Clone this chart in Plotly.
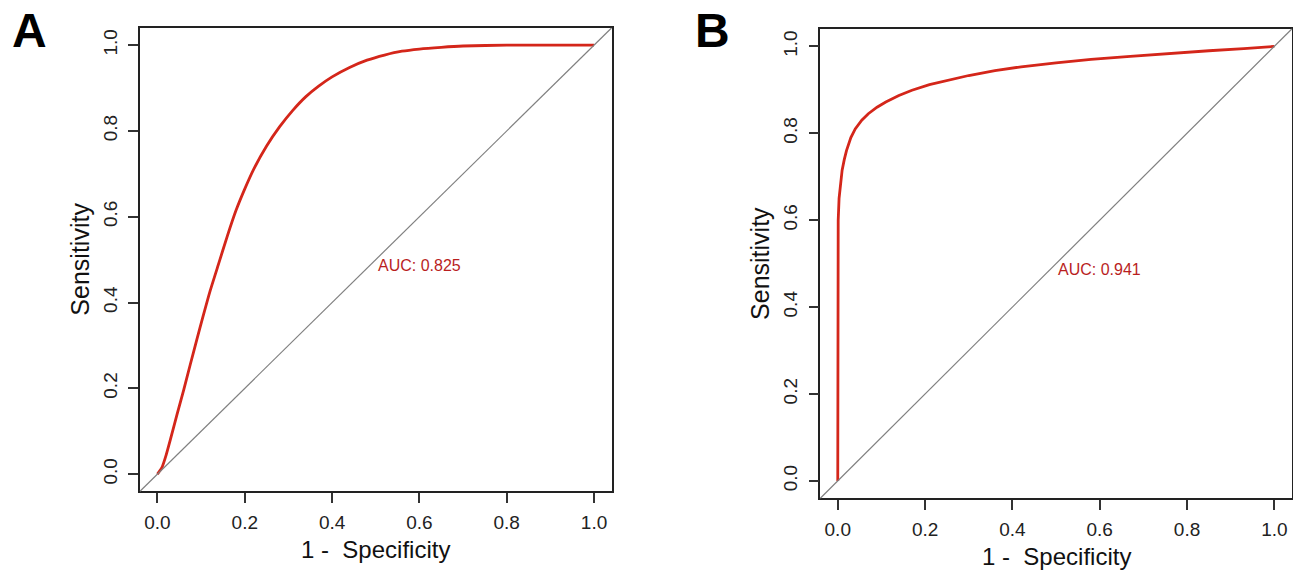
import plotly.graph_objects as go

# ---------------- data ----------------
# Panel A: smoothed ROC curve (1 - specificity, sensitivity)
fpr_a = [0, 0.01, 0.02, 0.03, 0.045, 0.06, 0.075, 0.09, 0.105, 0.12, 0.14, 0.16,
         0.18, 0.2, 0.22, 0.25, 0.28, 0.31, 0.34, 0.37, 0.4, 0.44, 0.48, 0.52,
         0.56, 0.6, 0.65, 0.7, 0.8, 0.9, 1.0]
tpr_a = [0, 0.015, 0.045, 0.082, 0.14, 0.196, 0.255, 0.313, 0.37, 0.425, 0.49, 0.555,
         0.615, 0.665, 0.71, 0.765, 0.81, 0.848, 0.88, 0.905, 0.926, 0.948, 0.965, 0.977,
         0.986, 0.991, 0.995, 0.998, 1.0, 1.0, 1.0]
auc_a = "AUC: 0.825"

# Panel B
fpr_b = [0, 0.0, 0.001, 0.003, 0.006, 0.01, 0.015, 0.02, 0.03, 0.04, 0.055, 0.07,
         0.09, 0.11, 0.14, 0.17, 0.21, 0.25, 0.3, 0.36, 0.42, 0.5, 0.58, 0.67,
         0.76, 0.85, 0.93, 1.0]
tpr_b = [0, 0.5, 0.6, 0.65, 0.685, 0.715, 0.74, 0.76, 0.79, 0.81, 0.83, 0.845,
         0.86, 0.872, 0.887, 0.899, 0.912, 0.922, 0.933, 0.944, 0.953, 0.962, 0.97, 0.977,
         0.984, 0.99, 0.995, 1.0]
auc_b = "AUC: 0.941"

tick_vals = [0, 0.2, 0.4, 0.6, 0.8, 1.0]
panel_labels = ["A", "B"]
x_title = "1 -  Specificity"
y_title = "Sensitivity"

# ---------------- style ----------------
FONT = "Liberation Sans, Arial, sans-serif"
CURVE = "rgb(212,38,26)"
AUC_COL = "rgb(185,30,30)"
W, H = 1293, 570

fig = go.Figure()
fig.add_trace(go.Scatter(x=fpr_a, y=tpr_a, mode="lines", xaxis="x", yaxis="y",
                         line=dict(color=CURVE, width=2.8, shape="spline", smoothing=0.6),
                         showlegend=False, hoverinfo="x+y"))
fig.add_trace(go.Scatter(x=fpr_b, y=tpr_b, mode="lines", xaxis="x2", yaxis="y2",
                         line=dict(color=CURVE, width=2.8),
                         showlegend=False, hoverinfo="x+y"))

def ax(domain, anchor, rotate=False):
    d = dict(domain=domain, anchor=anchor, range=[-0.04, 1.04], tickvals=tick_vals,
             tickformat=".1f", ticks="outside", ticklen=10, tickwidth=1.5,
             tickcolor="#333", showline=True, mirror=True, linecolor="#222",
             linewidth=1.5, showgrid=False, zeroline=False,
             tickfont=dict(family=FONT, size=19, color="#222"))
    if rotate:
        d["tickangle"] = -90
        d["ticklabelstandoff"] = 4
    else:
        d["ticklabelstandoff"] = 3
    return d

# pixel boxes -> paper fractions
boxA = (140, 611.5, 28, 491.3)
boxB = (820.3, 1291.8, 29, 498.3)
def xd(b): return [b[0] / W, b[1] / W]
def yd(b): return [1 - b[3] / H, 1 - b[2] / H]

fig.update_layout(
    width=W, height=H, margin=dict(l=0, r=0, t=0, b=0),
    paper_bgcolor="white", plot_bgcolor="white",
    xaxis=ax(xd(boxA), "y"), yaxis=ax(yd(boxA), "x", True),
    xaxis2=ax(xd(boxB), "y2"), yaxis2=ax(yd(boxB), "x2", True),
)

# diagonal reference lines corner to corner
for xr, yr in (("x domain", "y domain"), ("x2 domain", "y2 domain")):
    fig.add_shape(type="line", xref=xr, yref=yr, x0=0, y0=0, x1=1, y1=1,
                  line=dict(color="rgb(128,128,128)", width=1.2))

anns = []
for xs, ys, auc, box, xt_y, yt_shift in (("x", "y", auc_a, boxA, 549, -60),
                                         ("x2", "y2", auc_b, boxB, 556, -61)):
    anns.append(dict(x=0.5, y=0.5, xref=xs, yref=ys, text=auc, showarrow=False,
                     xanchor="left", yanchor="top", yshift=5,
                     font=dict(family=FONT, size=16, color=AUC_COL)))
    anns.append(dict(x=0.5, y=0, xref=xs + " domain", yref=ys + " domain", text=x_title,
                     showarrow=False, xanchor="center", yanchor="middle",
                     yshift=-(xt_y - box[3]),
                     font=dict(family=FONT, size=24, color="#111")))
    anns.append(dict(x=0, y=0.5, xref=xs + " domain", yref=ys + " domain", text=y_title,
                     showarrow=False, xanchor="center", yanchor="middle", textangle=-90,
                     xshift=yt_shift,
                     font=dict(family=FONT, size=25, color="#111")))
anns.append(dict(x=29 / W, y=1 - 31 / H, xref="paper", yref="paper", text="<b>" + panel_labels[0] + "</b>",
                 showarrow=False, xanchor="center", yanchor="middle",
                 font=dict(family=FONT, size=48, color="black")))
anns.append(dict(x=712 / W, y=1 - 31 / H, xref="paper", yref="paper", text="<b>" + panel_labels[1] + "</b>",
                 showarrow=False, xanchor="center", yanchor="middle",
                 font=dict(family=FONT, size=48, color="black")))
fig.update_layout(annotations=anns)

fig.write_html("out.html", config={"displayModeBar": False},
               post_script="document.body.style.margin='0';document.body.style.overflow='hidden';")
